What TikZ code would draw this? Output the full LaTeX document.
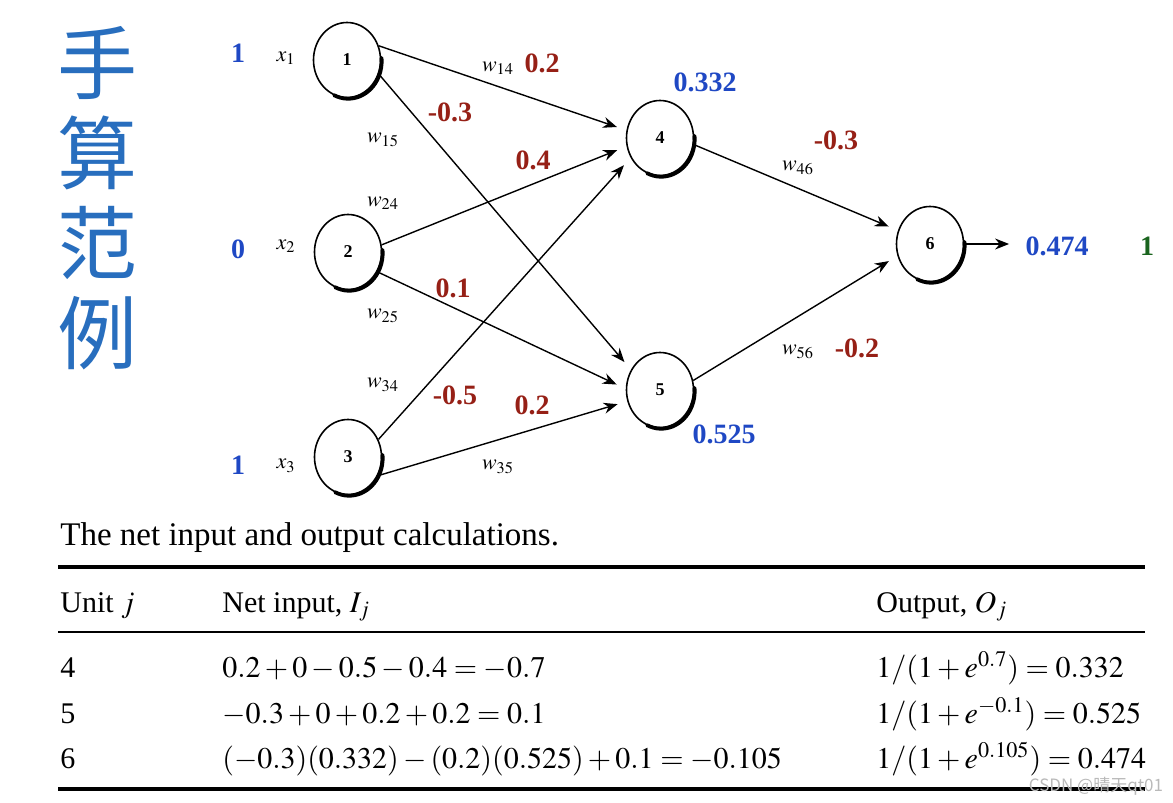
\documentclass[tikz,border=0pt]{standalone}
\usepackage{mathptmx}
\usepackage{fontspec}
\setmainfont{Liberation Serif}
\newfontfamily\cjk{Noto Sans CJK SC}
\usetikzlibrary{arrows.meta,shapes.geometric}
\definecolor{numblue}{RGB}{31,72,196}
\definecolor{numred}{RGB}{150,32,22}
\definecolor{numgreen}{RGB}{26,100,30}
\definecolor{titleblue}{RGB}{40,110,190}
\newcommand\nshadow[1]{\draw[line width=1.9pt,line cap=round] ([shift={(0.6pt,-0.6pt)}]#1.center) ++(-115:16.75pt and 18.75pt) arc[start angle=-115,end angle=5,x radius=16.75pt,y radius=18.75pt];}
\begin{document}
\begin{tikzpicture}[x=0.5pt,y=0.5pt,
  neuron/.style={ellipse,draw,line width=0.8pt,minimum width=33.5pt,minimum height=37.5pt,inner sep=0pt,font=\bfseries\fontsize{9}{9}\selectfont},
  conn/.style={-{Stealth[length=7pt,width=5.5pt]},line width=0.7pt,shorten >=5pt},
  num/.style={font=\bfseries\fontsize{14}{14}\selectfont,inner sep=1pt},
  bnum/.style={num,text=numblue},
  rnum/.style={num,text=numred},
  wl/.style={font=\fontsize{11}{11}\selectfont,inner sep=1pt},
  tab/.style={font=\fontsize{15}{18}\selectfont,anchor=base west,inner sep=0pt},
  thickrule/.style={line width=2pt},
  thinrule/.style={line width=0.9pt}]
\useasboundingbox (0,0) rectangle (1173,-803);
% title
\node[text=titleblue,align=center,font=\cjk\fontsize{40}{45}\selectfont,inner sep=0pt] (title) at (97,-198) {手\\算\\范\\例};
% neurons
\node[neuron] (n1) at (347,-60) {1};
\node[neuron] (n2) at (348,-252) {2};
\node[neuron] (n3) at (348,-457) {3};
\node[neuron] (n4) at (660,-138) {4};
\node[neuron] (n5) at (660,-390) {5};
\node[neuron] (n6) at (930,-244) {6};
\nshadow{n1}\nshadow{n2}\nshadow{n3}\nshadow{n4}\nshadow{n5}\nshadow{n6}
% connectors
\draw[conn] (n1.24) -- (n4.167);
\draw[conn] (n1.-24) -- (n5.145);
\draw[conn] (n2.12) -- (n4.194);
\draw[conn] (n2.-34) -- (n5.178);
\draw[conn] (n3.30) -- (n4.214);
\draw[conn] (n3.-32) -- (n5.199);
\draw[conn] (n4.-11) -- (n6.157);
\draw[conn] (n5.16) -- (n6.200);
\node[bnum] (out) at (1057,-246) {0.474};
\draw[conn,shorten >=7pt] (n6.east) -- (n6.east -| out.west);
\node[num,text=numgreen] (target) at (1147,-246) {1};
% inputs
\node[bnum] (in1) at (238,-53) {1};
\node[bnum] (in2) at (238,-249) {0};
\node[bnum] (in3) at (238,-465) {1};
\node[wl] (x1) at (286,-58) {$x_1$};
\node[wl] (x2) at (286,-246) {$x_2$};
\node[wl] (x3) at (286,-466) {$x_3$};
% weights
\node[wl] (w14) at (498,-68) {$w_{14}$};
\node[rnum] (v14) at (542,-63) {0.2};
\node[rnum] (v15) at (450,-112) {-0.3};
\node[wl] (w15) at (383,-140) {$w_{15}$};
\node[rnum] (v24) at (533,-160) {0.4};
\node[wl] (w24) at (383,-203) {$w_{24}$};
\node[rnum] (v25) at (453,-288) {0.1};
\node[wl] (w25) at (383,-316) {$w_{25}$};
\node[wl] (w34) at (383,-385) {$w_{34}$};
\node[rnum] (v34) at (455,-395) {-0.5};
\node[rnum] (v35) at (532,-405) {0.2};
\node[wl] (w35) at (498,-467) {$w_{35}$};
\node[bnum] (o4) at (705,-82) {0.332};
\node[bnum] (o5) at (724,-434) {0.525};
\node[rnum] (v46) at (836,-140) {-0.3};
\node[wl] (w46) at (798,-168) {$w_{46}$};
\node[wl] (w56) at (798,-352) {$w_{56}$};
\node[rnum] (v56) at (857,-348) {-0.2};
% table
\node[tab,font=\fontsize{16.5}{18}\selectfont] (cap) at (60,-545) {The net input and output calculations.};
\draw[thickrule] (58,-567) -- (1145,-567);
\node[tab] (h1) at (60,-612) {Unit $j$};
\node[tab] (h2) at (222,-612) {Net input, $I_j$};
\node[tab] (h3) at (876,-612) {Output, $O_j$};
\draw[thinrule] (58,-632) -- (1145,-632);
\node[tab] (r4a) at (60,-677) {4};
\node[tab] (r4b) at (222,-677) {$0.2+0-0.5-0.4=-0.7$};
\node[tab] (r4c) at (876,-677) {$1/(1+e^{0.7})=0.332$};
\node[tab] (r5a) at (60,-723) {5};
\node[tab] (r5b) at (222,-723) {$-0.3+0+0.2+0.2=0.1$};
\node[tab] (r5c) at (876,-723) {$1/(1+e^{-0.1})=0.525$};
\node[tab] (r6a) at (60,-768) {6};
\node[tab] (r6b) at (222,-768) {$(-0.3)(0.332)-(0.2)(0.525)+0.1=-0.105$};
\node[tab] (r6c) at (876,-768) {$1/(1+e^{0.105})=0.474$};
\draw[thickrule] (58,-789) -- (1145,-789);
\node[text=gray!55,font=\cjk\fontsize{8.5}{9}\selectfont,inner sep=0pt] (wm) at (1096,-786) {CSDN @晴天qt01};
\end{tikzpicture}
\end{document}
